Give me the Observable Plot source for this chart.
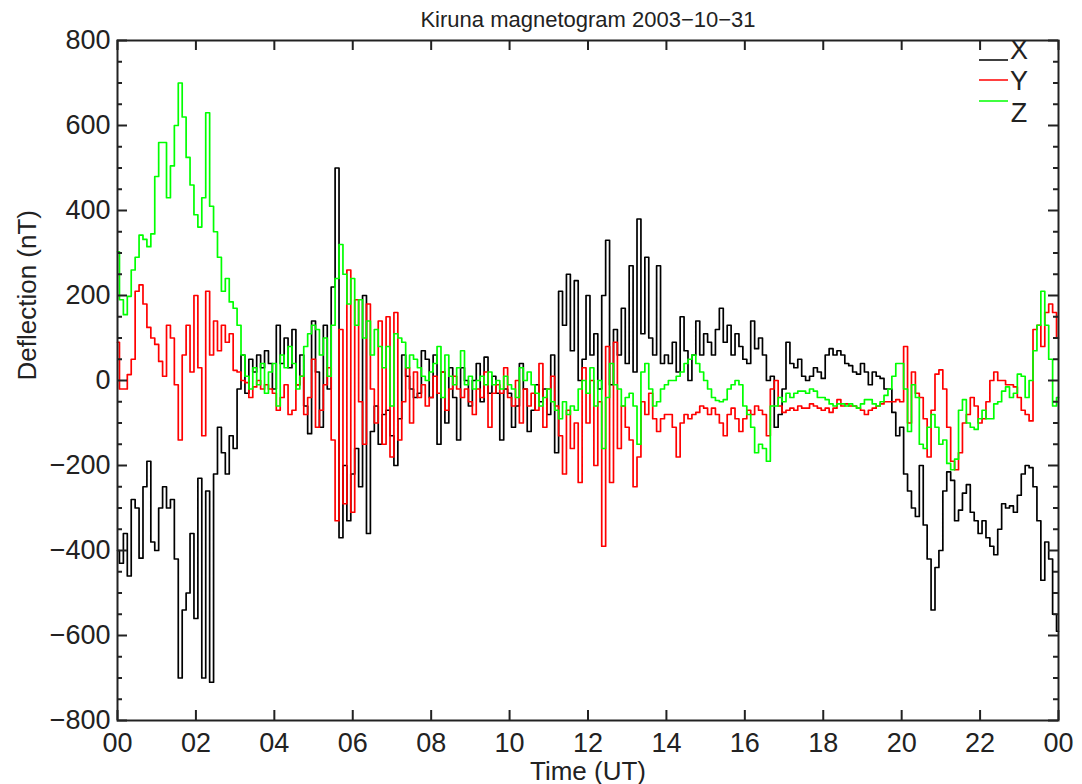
<!DOCTYPE html>
<html><head><meta charset="utf-8">
<script src="https://cdn.jsdelivr.net/npm/d3@7"></script>
<script src="https://cdn.jsdelivr.net/npm/@observablehq/plot@0.6"></script>
<style>
html,body{margin:0;padding:0;background:#fff;}
#chart{width:1082px;height:784px;}
</style></head><body><div id="chart"></div>
<script>
// ---- data (one sample every 6 minutes, 00:00 .. 24:00 UT) ----
const sampleMinutes = 6;
const seriesNames = ["X", "Y", "Z"];
const seriesColors = ["#000000", "#ff0000", "#00ff00"];
const titleText = "Kiruna magnetogram 2003\u221210\u221231";
const xLabelText = "Time (UT)";
const yLabelText = "Deflection (nT)";

const xValues = [
 -400,-430,-360,-460,-280,-300,-418,-250,-190,-380,
 -400,-300,-250,-300,-280,-420,-700,-540,-500,-360,
 -560,-230,-700,-260,-710,-220,-110,-170,-220,-130,
 -160,-20,60,-30,50,20,60,30,70,40,
 -20,130,40,100,30,120,-10,60,-60,-125,
 140,20,-110,130,-20,220,500,-370,-200,-330,
 -220,-160,-250,200,-360,-120,-60,-150,-80,-70,
 -130,-200,-90,60,10,-20,-40,-30,70,50,
 -40,60,-150,20,-100,30,-40,-140,30,0,
 -60,0,40,-50,55,-30,10,-30,-140,-20,
 -30,-110,-60,40,-20,-120,-70,-10,-50,-20,
 -80,60,-170,210,130,250,70,235,0,50,
 200,60,110,-20,200,330,-10,120,60,170,
 40,270,20,380,110,290,100,60,270,40,
 60,40,90,20,150,70,0,60,140,60,
 110,90,60,120,170,90,130,60,110,80,
 50,40,140,75,100,60,0,10,-110,-80,
 -20,90,40,30,50,10,0,10,30,20,
 5,60,75,60,70,60,40,35,20,15,
 40,20,-10,20,10,5,-20,-20,-75,-130,
 -110,-220,-260,-300,-320,-200,-340,-420,-540,-440,
 -400,-260,-215,-235,-330,-305,-265,-245,-310,-330,
 -360,-330,-370,-390,-410,-350,-290,-300,-295,-310,
 -270,-220,-200,-205,-250,-330,-470,-380,-420,-550,
 -590];

const yValues = [
 90,-20,-20,14,50,210,225,180,125,100,
 85,45,10,130,100,-10,-140,60,130,20,
 200,30,-130,210,60,140,70,130,90,110,
 24,20,0,-5,-40,-15,0,-20,-10,-20,
 -30,-70,-40,-10,-80,-70,-10,10,-80,-40,
 50,-110,-70,-10,30,-140,-330,120,-290,260,
 -310,190,-50,-150,180,-20,-100,140,-150,150,
 -180,160,-140,-50,30,-100,20,-40,-10,-60,
 -40,10,-30,20,-70,-20,10,-20,-40,-20,
 -50,-80,-20,-40,20,-110,-30,-10,-30,30,
 -40,-60,0,-100,-20,-60,-30,-70,40,-110,
 -20,10,-60,-130,-220,-70,-160,-100,-240,30,
 -100,0,-200,-50,-390,80,-240,90,-160,-60,
 -110,-140,-250,-180,-50,-80,-30,-90,-120,-90,
 -80,-80,-110,-180,-100,-80,-90,-80,-75,-60,
 -65,-80,-65,-80,-100,-130,-80,-65,-90,-120,
 -90,-70,-80,-60,-70,-80,-130,-20,0,-60,
 -75,-70,-65,-70,-60,-65,-65,-55,-60,-65,
 -70,-65,-75,-65,-45,-60,-55,-60,-60,-65,
 -70,-80,-70,-65,-60,-55,-50,-50,-50,-45,
 -50,80,-100,20,-30,-40,-90,-180,-70,15,
 25,-20,-110,-190,-210,-170,-100,-80,-40,-60,
 -100,-90,-50,0,20,0,0,-10,-10,-15,
 -40,-70,-80,-95,120,130,80,160,180,160,
 100];

const zValues = [
 303,190,155,198,260,290,342,332,315,345,
 480,560,560,430,505,600,700,620,525,460,
 390,361,430,630,410,350,290,210,240,185,
 170,130,60,10,-20,30,-10,40,-30,20,
 40,-60,60,30,80,40,-20,10,80,110,
 130,120,60,100,10,130,240,320,250,180,
 240,130,190,100,140,60,120,80,30,80,
 -60,110,100,90,30,60,50,30,10,0,
 20,40,80,-40,60,10,-10,30,70,-10,
 10,-20,0,10,-10,20,-10,0,-20,10,
 -10,-20,-40,30,0,20,-10,-30,-60,-40,
 -20,-50,-70,-90,-50,-80,-60,-70,-20,0,
 -30,30,-60,0,-160,-40,40,-10,-20,-60,
 -40,-30,-60,-150,20,40,-20,-60,-50,-20,
 -10,0,0,10,20,40,50,60,40,20,
 0,-20,-40,-47,-50,-45,-20,-10,0,-10,
 -60,-80,-110,-170,-150,-160,-190,-60,-60,-40,
 -50,-30,-40,-30,-25,-25,-30,-20,-25,-40,
 -40,-45,-55,-60,-55,-55,-60,-55,-60,-65,
 -55,-45,-45,-55,-60,-50,-35,-20,10,40,
 40,-20,-120,-10,-40,-150,-160,-110,-80,-110,
 -150,-140,-195,-210,-185,-70,-45,-100,-110,-115,
 -90,-70,-90,-90,-55,-50,-25,-15,-40,-30,
 15,10,-40,0,70,130,210,130,50,-60,
 -40];

const xTickHours = [0, 2, 4, 6, 8, 10, 12, 14, 16, 18, 20, 22, 24];
const yMajorTicks = [-800, -600, -400, -200, 0, 200, 400, 600, 800];
const yMinorTicks = [-750, -700, -650, -550, -500, -450, -350, -300, -250, -150, -100, -50,
                     50, 100, 150, 250, 300, 350, 450, 500, 550, 650, 700, 750];

// ---- build rows ----
const rows = [];
[xValues, yValues, zValues].forEach((vals, k) => {
  vals.forEach((v, i) => rows.push({series: seriesNames[k], hour: i * sampleMinutes / 60, value: v}));
});

const W = 1082, H = 784, mL = 117, mR = 24, mT = 40, mB = 64;
const plotW = W - mL - mR, plotH = H - mT - mB;
const font = "'Liberation Sans', Arial, Helvetica, sans-serif";
const ink = "#222";

const chart = Plot.plot({
  width: W, height: H,
  marginLeft: mL, marginRight: mR, marginTop: mT, marginBottom: mB,
  style: {fontFamily: font, background: "#fff", overflow: "visible", color: ink},
  x: {domain: [0, 24]},
  y: {domain: [-800, 800]},
  color: {domain: seriesNames, range: seriesColors},
  marks: [
    Plot.lineY(rows, {x: "hour", y: "value", z: "series", stroke: "series", curve: "step", strokeWidth: 1.7}),
    Plot.frame({stroke: ink, strokeWidth: 2}),
    // major ticks, pointing inward on all four sides
    Plot.tickX(xTickHours, {x: d => d, insetTop: plotH - 10, stroke: ink, strokeWidth: 2}),
    Plot.tickX(xTickHours, {x: d => d, insetBottom: plotH - 10, stroke: ink, strokeWidth: 2}),
    Plot.tickY(yMajorTicks, {y: d => d, insetRight: plotW - 10, stroke: ink, strokeWidth: 2}),
    Plot.tickY(yMajorTicks, {y: d => d, insetLeft: plotW - 10, stroke: ink, strokeWidth: 2}),
    Plot.tickY(yMinorTicks, {y: d => d, insetRight: plotW - 5, stroke: ink, strokeWidth: 2}),
    Plot.tickY(yMinorTicks, {y: d => d, insetLeft: plotW - 5, stroke: ink, strokeWidth: 2}),
    Plot.axisX(xTickHours, {tickSize: 0, tickPadding: 12, fontSize: 27, fill: ink, label: null,
      tickFormat: h => String(h % 24).padStart(2, "0")}),
    Plot.axisY(yMajorTicks, {tickSize: 0, tickPadding: 7, fontSize: 27, fill: ink, label: null}),
    Plot.text([titleText], {text: d => d, frameAnchor: "top", dy: -21, fontSize: 22, fill: ink, lineAnchor: "middle"}),
    Plot.text([xLabelText], {text: d => d, frameAnchor: "bottom", dy: 51, fontSize: 26, fill: ink, lineAnchor: "middle"}),
    Plot.text([yLabelText], {text: d => d, frameAnchor: "left", dx: -90, rotate: -90, fontSize: 26, fill: ink, lineAnchor: "middle"})
  ]
});

// ---- legend (top-right corner, inside frame) ----
const svg = d3.select(chart);
const lg = svg.append("g").attr("font-family", font).attr("font-size", 27).attr("fill", ink);
const legendLineY = [60, 80, 101];
const legendTextY = [50, 81, 113];
seriesNames.forEach((n, k) => {
  lg.append("line").attr("x1", 979).attr("x2", 1008).attr("y1", legendLineY[k]).attr("y2", legendLineY[k])
    .attr("stroke", seriesColors[k]).attr("stroke-width", 1.5);
  lg.append("text").attr("x", 1019).attr("y", legendTextY[k]).attr("dy", "0.35em").text(n);
});

document.getElementById("chart").appendChild(chart);
</script>
</body></html>
